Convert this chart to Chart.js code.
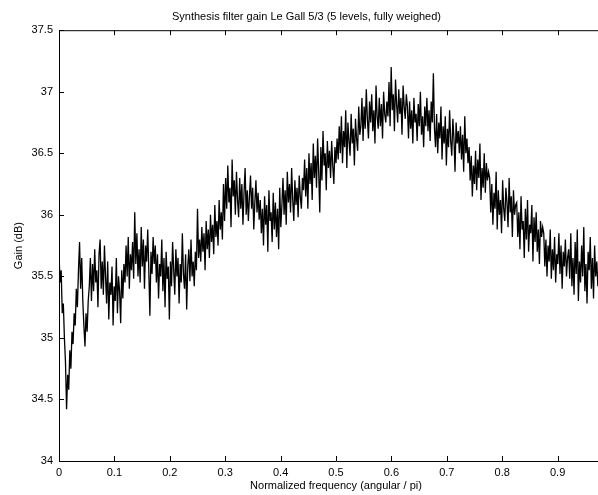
<!DOCTYPE html>
<html>
<head>
<meta charset="utf-8">
<script src="https://cdn.jsdelivr.net/npm/chart.js@4"></script>
<style>
  html, body { margin: 0; padding: 0; background: #fff; overflow: hidden; }
  #wrap { width: 664px; height: 495px; }
</style>
</head>
<body>
<div id="wrap"><canvas id="gainChart" width="664" height="495"></canvas></div>
<script>
// gain (dB), evenly spaced over normalized frequency 0..1
const gainDb = [
  35.68, 35.45, 35.55, 35.2, 35.28, 35.0, 34.8, 34.42, 34.7, 34.58, 34.9,
  34.75, 35.05, 34.95, 35.2, 35.1, 35.4, 35.25,
  35.55, 35.78, 35.4, 35.65, 35.3,
  35.1, 34.93, 35.2, 35.05, 35.3,
  35.42, 35.65, 35.3, 35.6, 35.38, 35.72, 35.45, 35.55, 35.25, 35.68, 35.8, 35.4, 35.62, 35.35, 35.75,
  35.5, 35.28, 35.62, 35.15, 35.45, 35.35, 35.58, 35.1, 35.42, 35.3, 35.65, 35.2, 35.5, 35.38, 35.12, 35.55, 35.32, 35.6,
  35.45, 35.75, 35.5, 35.82, 35.4, 35.68, 35.55, 35.78, 35.48,
  36.02, 35.6, 35.85, 35.5, 35.72, 35.45, 35.9, 35.58, 35.8, 35.4, 35.75, 35.62, 35.88, 35.55, 35.18, 35.7, 35.52, 35.82, 35.6,
  35.75, 35.45, 35.68, 35.32, 35.6, 35.5, 35.8, 35.38, 35.65, 35.25, 35.7, 35.48, 35.58, 35.15, 35.62, 35.42, 35.78, 35.55, 35.35,
  35.72, 35.5, 35.65, 35.28, 35.6, 35.45, 35.85, 35.52, 35.4, 35.68, 35.23, 35.58, 35.72, 35.46, 35.8, 35.5, 35.62, 35.42,
  35.7, 35.55, 36.05, 35.65, 35.8,
  35.62, 35.9, 35.7, 35.85, 35.55, 35.95, 35.72, 35.88, 35.65, 36.0, 35.78, 35.92, 35.68, 36.08, 35.82, 35.95, 35.75, 36.12, 35.88, 36.02, 35.8,
  36.25, 35.95, 36.3, 36.05, 36.4, 36.1, 36.22, 35.9, 36.45, 36.15, 36.28, 36.0, 36.35, 36.12, 35.98, 36.3,
  36.05, 36.25, 35.92, 36.18, 36.38, 36.0, 36.2, 35.95, 36.15, 36.32, 36.05, 36.22, 35.88, 36.1, 36.28, 36.02, 36.18, 35.96,
  36.12, 35.85, 36.05, 35.75, 36.15, 35.92, 36.08, 35.7, 36.2, 35.95, 36.02, 35.78, 36.18, 35.88, 36.1, 35.82, 36.05, 35.72, 36.22, 35.9, 36.08,
  36.3, 36.0, 36.2, 35.92, 36.35, 36.1, 36.25, 36.02, 36.38, 36.12, 35.95, 36.28, 36.08, 36.22, 35.98, 36.32, 36.15, 36.05, 36.3,
  36.2, 36.45, 36.15, 36.38, 36.05, 36.5, 36.25, 36.42, 36.12, 36.58, 36.3, 36.48, 36.22, 36.62, 36.35, 36.02, 36.55, 36.28, 36.68, 36.4, 36.5, 36.2, 36.6, 36.38, 36.52,
  36.3, 36.6, 36.4, 36.25, 36.55, 36.42, 36.62,
  36.45, 36.72, 36.5, 36.8, 36.42, 36.68, 36.55, 36.85, 36.38, 36.75, 36.6, 36.48, 36.82, 36.58, 36.7, 36.4, 36.78, 36.62, 36.52, 36.88, 36.65,
  36.72, 36.95, 36.6, 36.88, 36.7, 37.02, 36.78, 36.62, 36.92, 36.75, 36.98, 36.68, 36.85, 36.58, 37.05, 36.8, 36.7, 36.95, 36.72, 36.9, 36.62, 37.0, 36.82, 36.75, 36.92,
  36.8, 37.08, 36.72, 37.2, 36.85, 36.98, 36.68, 37.1, 36.9, 36.75, 37.02, 36.82, 36.95, 36.65, 37.05, 36.88, 36.78, 36.98,
  36.88, 36.62, 36.92, 36.7, 36.85, 36.58, 36.95, 36.75, 36.82, 36.6, 36.9, 36.72, 37.0, 36.65, 36.8, 36.55, 36.88, 36.72, 36.95, 36.68, 36.85, 36.6, 36.92, 36.75,
  37.15, 36.7, 36.55, 36.82, 36.5, 36.75, 36.62, 36.88, 36.45, 36.72, 36.58, 36.8, 36.4, 36.7, 36.55, 36.85, 36.6, 36.48, 36.78, 36.62, 36.35, 36.75, 36.58, 36.68, 36.5,
  36.72, 36.45, 36.65, 36.35, 36.8, 36.5, 36.62, 36.42,
  36.55, 36.28, 36.48, 36.15, 36.4, 36.25, 36.52, 36.2, 36.45, 36.3, 36.58, 36.12, 36.38, 36.22, 36.5, 36.18, 36.42, 36.28, 36.35,
  36.3, 36.02, 36.25, 35.92, 36.18, 36.05, 36.35, 35.88, 36.2, 36.0, 36.12, 35.85, 36.28, 36.05, 35.95, 36.22, 36.1, 35.9, 36.3, 36.02, 36.15, 35.82, 36.2, 36.0, 36.08,
  36.1, 35.82, 36.02, 35.72, 36.15, 35.88, 35.95, 35.65, 36.05, 35.8, 36.12, 35.7, 35.92, 35.85, 36.08, 35.62, 35.98, 35.78, 36.02, 35.7, 35.88, 35.6, 35.95, 35.82, 35.9,
  35.85, 35.58, 35.8, 35.5, 35.75, 35.62, 35.88, 35.48, 35.72, 35.55, 35.82, 35.45, 35.68, 35.6, 35.85, 35.52, 35.75, 35.4, 35.7, 35.58, 35.8, 35.5, 35.65, 35.72,
  35.48, 35.85, 35.42, 35.65, 35.35, 35.78, 35.52, 35.88, 35.3, 35.62, 35.45, 35.75, 35.5, 35.9, 35.38, 35.6, 35.28, 35.7, 35.55, 35.82, 35.4, 35.65, 35.32, 35.75, 35.5, 35.62, 35.42, 35.58,
  35.5, 35.7, 35.42, 35.6, 35.38, 35.65, 35.5, 35.55, 35.45, 35.62, 35.48, 35.55
];

const xTicks = [0, 0.1, 0.2, 0.3, 0.4, 0.5, 0.6, 0.7, 0.8, 0.9, 1];
const yTicks = [34, 34.5, 35, 35.5, 36, 36.5, 37, 37.5];

const points = gainDb.map((g, i) => ({ x: i / gainDb.length, y: g }));

const FONT = { family: '"Liberation Sans", Arial, Helvetica, sans-serif', size: 11 };

// matlab style ticks pointing into the box, plus the top border
const innerTicks = {
  id: 'innerTicks',
  afterDraw(chart) {
    const { ctx, chartArea: a, scales: { x, y } } = chart;
    const len = 5;
    ctx.save();
    ctx.strokeStyle = '#000';
    ctx.lineWidth = 1;
    ctx.beginPath();
    ctx.moveTo(a.left, a.top + 0.5);
    ctx.lineTo(a.right, a.top + 0.5);
    xTicks.forEach(v => {
      const px = Math.round(x.getPixelForValue(v)) + 0.5;
      ctx.moveTo(px, a.bottom);
      ctx.lineTo(px, a.bottom - len);
      ctx.moveTo(px, a.top);
      ctx.lineTo(px, a.top + len);
    });
    yTicks.forEach(v => {
      const py = Math.round(y.getPixelForValue(v)) + 0.5;
      ctx.moveTo(a.left, py);
      ctx.lineTo(a.left + len, py);
      ctx.moveTo(a.right, py);
      ctx.lineTo(a.right - len, py);
    });
    ctx.stroke();
    ctx.restore();
  }
};

const fmt = v => String(Number(v.toFixed(2)));

new Chart(document.getElementById('gainChart'), {
  type: 'line',
  data: {
    datasets: [{
      data: points,
      borderColor: '#000',
      borderWidth: 1.3,
      pointRadius: 0,
      tension: 0,
      fill: false
    }]
  },
  options: {
    responsive: false,
    animation: false,
    layout: { padding: { left: 0, right: 51, top: 0, bottom: 0 } },
    plugins: {
      legend: { display: false },
      tooltip: { enabled: false },
      title: {
        display: true,
        text: 'Synthesis filter gain Le Gall 5/3 (5 levels, fully weighed)',
        color: '#000',
        font: { ...FONT, weight: 'normal' },
        padding: { top: 10, bottom: 7 }
      }
    },
    scales: {
      x: {
        type: 'linear',
        min: 0,
        max: 1,
        afterFit: s => { s.height = 34; },
        afterBuildTicks: s => { s.ticks = xTicks.map(v => ({ value: v })); },
        grid: { display: false, drawTicks: false },
        border: { display: true, color: '#000', width: 1 },
        ticks: { color: '#000', font: FONT, padding: 5, maxRotation: 0, callback: fmt },
        title: {
          display: true,
          text: 'Normalized frequency (angular / pi)',
          color: '#000',
          font: FONT,
          padding: { top: 2, bottom: 2 }
        }
      },
      y: {
        min: 34,
        max: 37.5,
        afterFit: s => { s.width = 59; },
        afterBuildTicks: s => { s.ticks = yTicks.map(v => ({ value: v })); },
        grid: { display: false, drawTicks: false },
        border: { display: true, color: '#000', width: 1 },
        ticks: { color: '#000', font: FONT, padding: 6, callback: fmt },
        title: {
          display: true,
          text: 'Gain (dB)',
          color: '#000',
          font: FONT,
          padding: { top: 12, bottom: 0 }
        }
      }
    }
  },
  plugins: [innerTicks]
});
</script>
</body>
</html>
